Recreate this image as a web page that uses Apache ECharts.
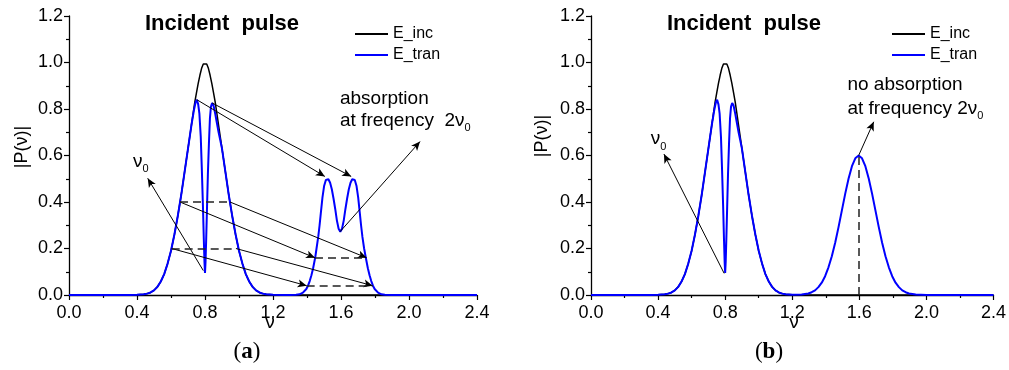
<!DOCTYPE html>
<html><head><meta charset="utf-8">
<script src="https://cdn.jsdelivr.net/npm/echarts@6/dist/echarts.min.js"></script>
<style>html,body{margin:0;padding:0;background:#fff}#c{width:1009px;height:370px}</style>
</head><body><div id="c"></div>
<script>
// ---------- data ----------
const incident = [[0,0],[0.36,0.0003],[0.40,0.001],[0.44,0.003],[0.46,0.006],[0.48,0.011],[0.50,0.02],[0.52,0.035],[0.54,0.058],[0.56,0.09],[0.58,0.135],[0.60,0.19],[0.62,0.26],[0.64,0.34],[0.66,0.43],[0.68,0.53],[0.70,0.63],[0.72,0.73],[0.73,0.78],[0.74,0.83],[0.75,0.87],[0.76,0.91],[0.77,0.945],[0.78,0.975],[0.79,0.994],[0.80,1.0],[0.81,0.994],[0.82,0.975],[0.83,0.945],[0.84,0.91],[0.85,0.87],[0.86,0.83],[0.87,0.78],[0.88,0.73],[0.90,0.63],[0.92,0.53],[0.94,0.43],[0.96,0.34],[0.98,0.26],[1.00,0.19],[1.02,0.135],[1.04,0.09],[1.06,0.058],[1.08,0.035],[1.10,0.02],[1.12,0.011],[1.14,0.006],[1.16,0.003],[1.20,0.001],[1.24,0.0003],[2.4,0]];

const transmittedMain = [[0,0],[0.36,0.0003],[0.40,0.001],[0.44,0.003],[0.46,0.006],[0.48,0.011],[0.50,0.02],[0.52,0.035],[0.54,0.058],[0.56,0.09],[0.58,0.135],[0.60,0.19],[0.62,0.26],[0.64,0.34],[0.66,0.43],[0.68,0.53],[0.70,0.63],[0.72,0.73],[0.735,0.795],[0.745,0.83],[0.752,0.84],[0.760,0.82],[0.767,0.78],[0.775,0.68],[0.781,0.55],[0.788,0.38],[0.793,0.24],[0.797,0.14],[0.800,0.095],[0.803,0.14],[0.807,0.24],[0.812,0.38],[0.817,0.52],[0.823,0.65],[0.829,0.76],[0.835,0.81],[0.842,0.826],[0.850,0.815],[0.860,0.78],[0.870,0.74],[0.880,0.70],[0.890,0.665],[0.90,0.63],[0.92,0.53],[0.94,0.43],[0.96,0.34],[0.98,0.26],[1.00,0.19],[1.02,0.135],[1.04,0.09],[1.06,0.058],[1.08,0.035],[1.10,0.02],[1.12,0.011],[1.14,0.006],[1.16,0.003],[1.20,0.001]];

const transmittedSecondA = [[1.26,0],[1.30,0],[1.336,0.001],[1.356,0.003],[1.376,0.01],[1.396,0.026],[1.406,0.04],[1.416,0.06],[1.426,0.085],[1.436,0.115],[1.448,0.16],[1.456,0.20],[1.466,0.25],[1.474,0.30],[1.481,0.35],[1.491,0.42],[1.501,0.47],[1.511,0.495],[1.520,0.50],[1.526,0.498],[1.536,0.483],[1.546,0.455],[1.556,0.415],[1.566,0.37],[1.576,0.32],[1.586,0.285],[1.596,0.272],[1.606,0.285],[1.616,0.32],[1.626,0.37],[1.636,0.415],[1.646,0.455],[1.656,0.483],[1.666,0.498],[1.672,0.50],[1.681,0.495],[1.691,0.47],[1.701,0.42],[1.711,0.35],[1.718,0.30],[1.726,0.25],[1.736,0.20],[1.746,0.16],[1.758,0.115],[1.768,0.085],[1.778,0.06],[1.788,0.04],[1.798,0.026],[1.818,0.01],[1.838,0.003],[1.858,0.001],[1.90,0],[2.4,0]];

const transmittedSecondB = [[1.256,0.0019],[1.296,0.0067],[1.316,0.012],[1.336,0.020],[1.356,0.034],[1.376,0.053],[1.396,0.081],[1.416,0.119],[1.436,0.167],[1.456,0.225],[1.476,0.292],[1.496,0.364],[1.516,0.436],[1.536,0.501],[1.556,0.554],[1.576,0.588],[1.596,0.60],[1.616,0.588],[1.636,0.554],[1.656,0.501],[1.676,0.436],[1.696,0.364],[1.716,0.292],[1.736,0.225],[1.756,0.167],[1.776,0.119],[1.796,0.081],[1.816,0.053],[1.836,0.034],[1.856,0.020],[1.876,0.012],[1.896,0.0067],[1.936,0.0019],[2.0,0],[2.4,0]];

// axes
const xRange = [0, 2.4], xStep = 0.4;
const yRange = [0, 1.2], yStep = 0.2;
const seriesNames = ['E_inc', 'E_tran'];
const titleText = 'Incident  pulse';
const yName = '|P(ν)|', xName = 'ν';

// annotations (data coordinates)
const arrowsA = [
  [[0.752,0.84],[1.505,0.51]],
  [[0.842,0.826],[1.66,0.51]],
  [[0.653,0.40],[1.447,0.16]],
  [[0.947,0.40],[1.751,0.16]],
  [[0.604,0.20],[1.398,0.04]],
  [[0.982,0.20],[1.786,0.04]],
  [[0.79,0.105],[0.463,0.502]],
  [[1.594,0.272],[2.065,0.66]]
];
const dashesA = [
  [[0.653,0.40],[0.947,0.40]],
  [[0.604,0.20],[0.982,0.20]],
  [[1.447,0.16],[1.751,0.16]],
  [[1.398,0.04],[1.786,0.04]]
];
const arrowsB = [
  [[0.794,0.093],[0.435,0.606]],
  [[1.596,0.60],[1.686,0.745]]
];
const dashesB = [
  [[1.596,0],[1.596,0.60]]
];
const textsA = [
  {at:[1.594,0.846], main:'absorption'},
  {at:[1.594,0.749], main:'at freqency  2ν', sub:'0'},
  {at:[0.376,0.575], main:'ν', sub:'0'}
];
const textsB = [
  {at:[1.529,0.903], main:'no absorption'},
  {at:[1.529,0.803], main:'at frequency 2ν', sub:'0'},
  {at:[0.357,0.67], main:'ν', sub:'0'}
];

// ---------- chart ----------
const FONT = '"Liberation Sans", Arial, sans-serif';
const chart = echarts.init(document.getElementById('c'), null, {renderer:'canvas'});
const grids = [
  {left:69, top:16, width:408, height:279},
  {left:591, top:16, width:408, height:279}
];
function xAx(i){return {gridIndex:i, type:'value', min:xRange[0], max:xRange[1], interval:xStep,
  axisLine:{show:true, onZero:false, lineStyle:{color:'#000', width:1.3}},
  axisTick:{show:true, length:5, lineStyle:{color:'#000', width:1.2}},
  minorTick:{show:true, splitNumber:2, length:3, lineStyle:{color:'#000', width:1.2}},
  axisLabel:{fontSize:18, fontFamily:FONT, color:'#000', margin:9, formatter:v=>v.toFixed(1)},
  splitLine:{show:false}};}
function yAx(i){return {gridIndex:i, type:'value', min:yRange[0], max:yRange[1], interval:yStep,
  axisLine:{show:true, onZero:false, lineStyle:{color:'#000', width:1.3}},
  axisTick:{show:true, length:5, lineStyle:{color:'#000', width:1.2}},
  minorTick:{show:true, splitNumber:2, length:3, lineStyle:{color:'#000', width:1.2}},
  axisLabel:{fontSize:18, fontFamily:FONT, color:'#000', margin:6, formatter:v=>v.toFixed(1)},
  splitLine:{show:false}};}
function ml(arrows, dashes){
  const data = [];
  arrows.forEach(a=>data.push([{coord:a[0], symbol:'none'},{coord:a[1], symbol:'arrow', symbolSize:[6,9]}]));
  dashes.forEach(d=>data.push([{coord:d[0], symbol:'none', lineStyle:{type:[8,5], width:1.5, color:'#222'}},{coord:d[1], symbol:'none'}]));
  return {silent:true, animation:false, label:{show:false}, symbol:['none','arrow'],
    lineStyle:{color:'#000', width:1, type:'solid'}, emphasis:{disabled:true}, data};
}
function line(name, i, data, color, w, mk){
  const s = {name, type:'line', xAxisIndex:i, yAxisIndex:i, data, showSymbol:false, symbol:'none',
    lineStyle:{color, width:w}, itemStyle:{color}, animation:false, z: name==='E_tran'?3:2};
  if (mk) s.markLine = mk;
  return s;
}
chart.setOption({
  animation:false,
  grid:grids,
  xAxis:[xAx(0), xAx(1)],
  yAxis:[yAx(0), yAx(1)],
  legend:[0,1].map(i=>({data:seriesNames, orient:'vertical', left: i===0?355:892, top:25, padding:0,
    icon:'rect', itemWidth:33, itemHeight:2, itemGap:3, selectedMode:false,
    textStyle:{fontSize:16, fontFamily:FONT, color:'#000', lineHeight:18}})),
  series:[
    line(seriesNames[0], 0, incident, '#000', 1.5),
    line(seriesNames[1], 0, transmittedMain.concat(transmittedSecondA), '#0000ff', 2, ml(arrowsA, dashesA)),
    line(seriesNames[0], 1, incident, '#000', 1.5),
    line(seriesNames[1], 1, transmittedMain.concat(transmittedSecondB), '#0000ff', 2, ml(arrowsB, dashesB))
  ]
});

const gfx = [];
function txt(x, y, opts){ gfx.push(Object.assign({type:'text', x, y, silent:true}, opts)); }
// titles
[222, 744].forEach(cx=>txt(cx, 24, {style:{text:titleText, font:'bold 22px '+FONT, fill:'#000', align:'center', verticalAlign:'middle'}}));
// axis names
[[22,147],[542,136]].forEach(p=>txt(p[0], p[1], {rotation:Math.PI/2, style:{text:yName, font:'18px '+FONT, fill:'#000', align:'center', verticalAlign:'middle'}}));
[270, 794].forEach(cx=>txt(cx, 323, {style:{text:xName, font:'19px '+FONT, fill:'#000', align:'center', verticalAlign:'middle'}}));
// panel labels
[['a',247],['b',769]].forEach(p=>txt(p[1], 352, {style:{text:'{p|(}{b|'+p[0]+'}{p|)}', align:'center', verticalAlign:'middle',
  rich:{p:{fontSize:23, fontFamily:'"Liberation Serif", "DejaVu Serif", serif', fill:'#000'},
        b:{fontSize:23, fontWeight:'bold', fontFamily:'"Liberation Serif", "DejaVu Serif", serif', fill:'#000'}}}}));
// annotation texts
[[0,textsA],[1,textsB]].forEach(([gi, arr])=>arr.forEach(t=>{
  const p = chart.convertToPixel({gridIndex:gi}, t.at);
  const s = t.sub ? '{m|'+t.main+'}{s|'+t.sub+'}' : '{m|'+t.main+'}';
  txt(p[0], p[1], {style:{text:s, align:'left', verticalAlign:'middle',
    rich:{m:{fontSize:19, fontFamily:FONT, lineHeight:26, fill:'#000'},
          s:{fontSize:11, fontFamily:FONT, lineHeight:11, verticalAlign:'bottom', fill:'#000'}}}});
}));
chart.setOption({graphic:gfx});
</script></body></html>
